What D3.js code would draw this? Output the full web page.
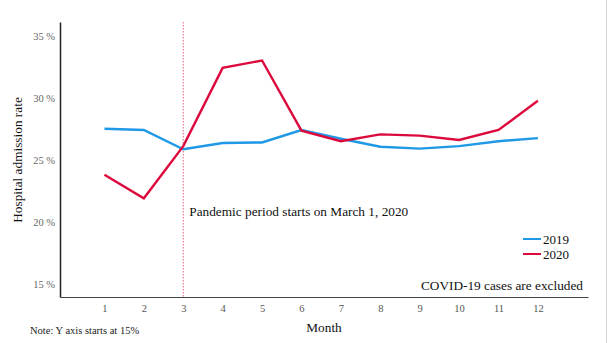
<!DOCTYPE html>
<html>
<head>
<meta charset="utf-8">
<script src="https://cdn.jsdelivr.net/npm/d3@7"></script>
<style>
  body { margin: 0; background: #fff; }
  svg text { font-family: "Liberation Serif", "DejaVu Serif", serif; }
</style>
</head>
<body>
<div id="chart"></div>
<script>

// DATA
let months = [1, 2, 3, 4, 5, 6, 7, 8, 9, 10, 11, 12];
let rate2019 = [27.5, 27.4, 25.85, 26.35, 26.4, 27.4, 26.7, 26.05, 25.9, 26.1, 26.5, 26.75];
let rate2020 = [23.8, 21.9, 26.1, 32.4, 33.0, 27.35, 26.5, 27.05, 26.95, 26.6, 27.4, 29.75];
let yTicks = [15, 20, 25, 30, 35];
let seriesNames = ["2019", "2020"];
let colors = {"2019": "#1f98e6", "2020": "#dc0a3c"};

// CHART AREA
let W = 608, H = 343;
let svg = d3.select("#chart").append("svg")
    .attr("width", W)
    .attr("height", H);

// SCALES
let x = d3.scalePoint()
    .domain(months)
    .range([60, 588])
    .padding(1.2)
    .align(0.47);

let y = d3.scaleLinear()
    .domain([13.95, 36.1])
    .range([297, 22]);

// right border line
svg.append("line")
    .attr("x1", 606.5).attr("x2", 606.5)
    .attr("y1", 0).attr("y2", H)
    .attr("stroke", "#d8d8d8");

// AXES
let xAxis = svg.append("g")
    .attr("transform", "translate(0,297)")
    .call(d3.axisBottom(x).tickSize(0).tickPadding(8));
xAxis.select(".domain").attr("stroke", "#444").attr("stroke-width", 1.2);
xAxis.selectAll("text")
    .attr("font-size", 10.5).attr("fill", "#555")
    .style("font-family", "'Liberation Serif', serif");

let yAxis = svg.append("g")
    .attr("transform", "translate(60,0)")
    .call(d3.axisLeft(y).tickValues(yTicks).tickSize(0).tickPadding(5)
        .tickFormat(d => d + " %"));
yAxis.select(".domain").attr("stroke", "#222").attr("stroke-width", 1.5);
yAxis.selectAll("text")
    .attr("font-size", 10.5).attr("fill", "#666")
    .style("font-family", "'Liberation Serif', serif");

// pandemic start marker at March
svg.append("line")
    .attr("x1", x(3)).attr("x2", x(3))
    .attr("y1", 22).attr("y2", 297)
    .attr("stroke", "#e8607f")
    .attr("stroke-width", 1)
    .attr("stroke-dasharray", "1.5,1.5");

svg.append("text")
    .attr("x", x(3) + 6).attr("y", 216)
    .attr("font-size", 13.3).attr("fill", "#111")
    .text("Pandemic period starts on March 1, 2020");

// LINES
let line = d3.line()
    .x((d, i) => x(months[i]))
    .y(d => y(d));

let series = [rate2019, rate2020];
series.forEach((vals, k) => {
    svg.append("path")
        .datum(vals)
        .attr("fill", "none")
        .attr("stroke", colors[seriesNames[k]])
        .attr("stroke-width", 2.4)
        .attr("d", line);
});

// LEGEND
seriesNames.forEach((name, i) => {
    let ly = 239 + i * 15;
    svg.append("line")
        .attr("x1", 523).attr("x2", 541)
        .attr("y1", ly).attr("y2", ly)
        .attr("stroke", colors[name])
        .attr("stroke-width", 2);
    svg.append("text")
        .attr("x", 543).attr("y", ly + 4.5)
        .attr("font-size", 13).attr("fill", "#111")
        .text(name);
});

svg.append("text")
    .attr("x", 583).attr("y", 290)
    .attr("text-anchor", "end")
    .attr("font-size", 13.3).attr("fill", "#111")
    .text("COVID-19 cases are excluded");

// TITLES
svg.append("text")
    .attr("x", 324).attr("y", 332)
    .attr("text-anchor", "middle")
    .attr("font-size", 13.3).attr("fill", "#111")
    .text("Month");

svg.append("text")
    .attr("transform", "translate(22,160) rotate(-90)")
    .attr("text-anchor", "middle")
    .attr("font-size", 13.3).attr("fill", "#111")
    .text("Hospital admission rate");

svg.append("text")
    .attr("x", 30).attr("y", 334)
    .attr("font-size", 10.5).attr("fill", "#222")
    .text("Note: Y axis starts at 15%");

</script>
</body>
</html>
